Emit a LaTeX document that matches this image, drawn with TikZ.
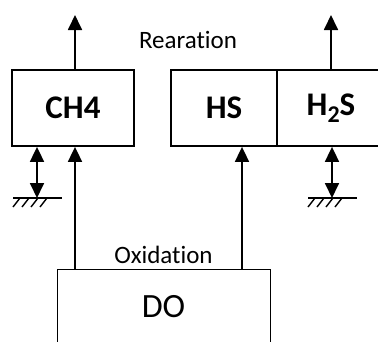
\documentclass[tikz,border=0pt]{standalone}
\usepackage{fontspec}
\setmainfont{Carlito}[Ligatures=NoCommon]
\usetikzlibrary{arrows.meta}
\tikzset{
  box/.style={draw,line width=1.8pt,inner sep=0pt,font=\bfseries\fontsize{33}{38}\selectfont},
  dobox/.style={draw,line width=1pt,inner sep=0pt},
  lbl/.style={inner sep=0pt,font=\fontsize{25}{29}\selectfont},
  arr/.style={line width=1.8pt,-{Triangle[length=15pt,width=14pt]}},
  darr/.style={line width=1.8pt,{Triangle[length=15pt,width=14pt]}-{Triangle[length=15pt,width=14pt]}},
  gnd/.style={line width=1.5pt},
  hatch/.style={line width=1.4pt}
}
\begin{document}
\begin{tikzpicture}[x=1pt,y=-1pt]
\useasboundingbox (0,0) rectangle (378,341);
% boxes
\node[box,minimum width=122pt,minimum height=76pt] (ch4) at (73,108) {CH4};
\node[box,minimum width=106pt,minimum height=76pt] (hs) at (224,108) {HS};
\node[box,minimum width=108pt,minimum height=76pt] (h2s) at (331,108) {H\raisebox{-0.2em}{\fontsize{24}{28}\selectfont 2}S};
\node[dobox,minimum width=213pt,minimum height=82pt,anchor=north west] (do) at (57,269) {};
\node[font=\fontsize{34}{40}\selectfont,inner sep=0pt] (dotxt) at (163.5,307) {DO};
% labels
\node[lbl,anchor=base] (rear) at (188,48) {Rearation};
\node[lbl,anchor=base] (oxid) at (163.5,263) {Oxidation};
% free ends
\coordinate (ch4up) at (75,15);
\coordinate (h2sup) at (331,15);
\coordinate (g1) at (37,198);
\coordinate (g2) at (332,198);
% upward arrows out of boxes
\draw[arr] (ch4.north -| ch4up) -- (ch4up);
\draw[arr] (h2s.north -| h2sup) -- (h2sup);
% exchange with sediment
\draw[darr] (ch4.south -| g1) -- (g1);
\draw[darr] (h2s.south -| g2) -- (g2);
% oxidation arrows
\coordinate (a1) at (75,269);
\coordinate (a2) at (242,269);
\draw[arr] (a1) -- (ch4.south -| a1);
\draw[arr] (a2) -- (hs.south -| a2);
% grounds
\foreach \g in {g1,g2}{
  \draw[gnd] ([xshift=-24pt]\g) -- ([xshift=25pt]\g);
  \foreach \h in {-24,-15,-6,3}{
    \draw[hatch] ([xshift=\h pt+7pt]\g) -- ([xshift=\h pt,yshift=-9pt]\g);
  }
}
\end{tikzpicture}
\end{document}
